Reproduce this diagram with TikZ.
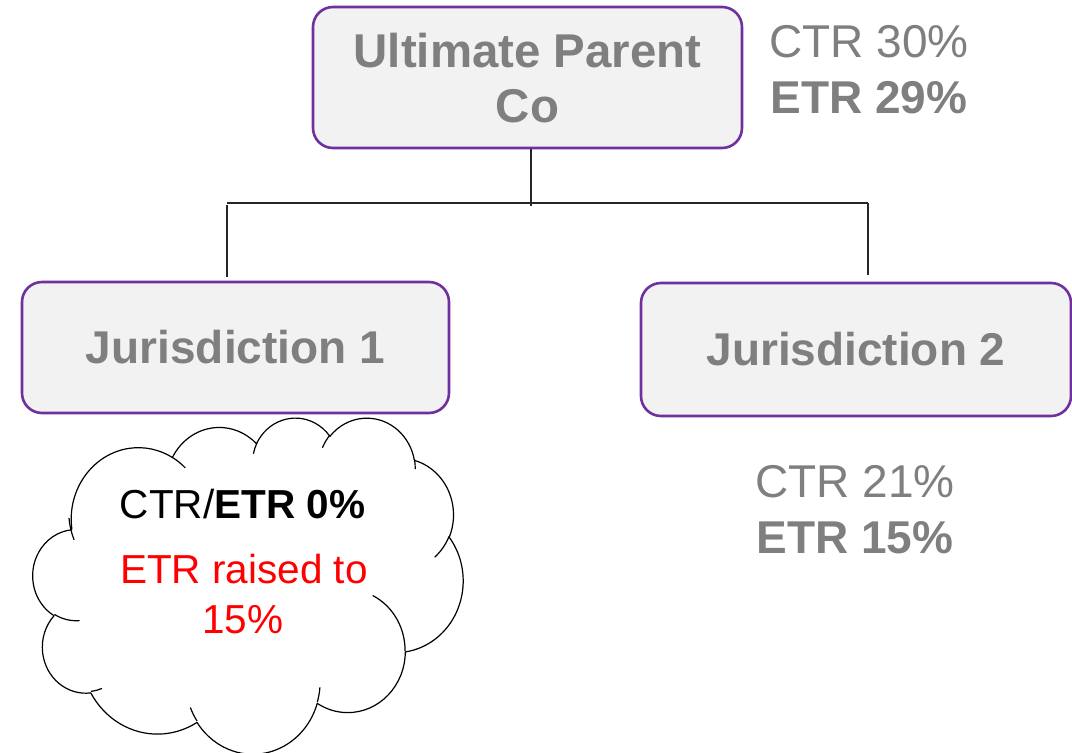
\documentclass[tikz,border=0pt]{standalone}
\usepackage{fontspec}
\setmainfont{Liberation Sans}
\usetikzlibrary{calc}

\definecolor{boxline}{HTML}{7030A0}
\definecolor{boxfill}{HTML}{F2F2F2}
\definecolor{labelgrey}{HTML}{7F7F7F}
\definecolor{raisered}{HTML}{FF0000}

% One cloud puff: name, x radius, y radius, start angle, sweep (angles measured
% visually on the ellipse in shape units); stores parametric start and delta.
\newcommand\cldarc[5]{%
  \pgfmathsetmacro\cldtmpA{atan2(#2*sin(#4), #3*cos(#4))}%
  \pgfmathsetmacro\cldtmpB{atan2(#2*sin(#4+#5), #3*cos(#4+#5))}%
  \pgfmathsetmacro\cldtmpD{mod(\cldtmpB-\cldtmpA+540,360)-180}%
  \expandafter\xdef\csname cld#1s\endcsname{\cldtmpA}%
  \expandafter\xdef\csname cld#1d\endcsname{\cldtmpD}%
}

\begin{document}
\begin{tikzpicture}[x=1pt,y=-1pt,
  entity/.style={draw=boxline, line width=2.6pt, fill=boxfill,
    rounded corners=20pt, text=labelgrey, align=center, inner sep=0pt,
    font=\fontsize{46}{57}\selectfont\bfseries},
  link/.style={draw=black!85, line width=1.4pt},
  rate/.style={text=labelgrey, inner sep=0pt, anchor=base,
    font=\fontsize{46}{56}\selectfont},
  cloudtext/.style={inner sep=0pt, anchor=base,
    font=\fontsize{40.5}{50}\selectfont},
  puff/.style={draw=black, line width=1.2pt, line join=round},
]
\useasboundingbox (0,0) rectangle (1072,753);

% Entities
\node[entity, minimum width=429pt, minimum height=141pt, text depth=0pt,
  font=\fontsize{47.4}{55}\selectfont\bfseries] (upc) at (527.5,77.5) {Ultimate Parent\\Co};
\node[entity, minimum width=427pt, minimum height=131pt] (j1) at (235.5,347.5) {Jurisdiction 1};
\node[entity, minimum width=430pt, minimum height=133pt] (j2) at (856,349.5) {Jurisdiction 2};

% Ownership connectors
\coordinate (hub) at (531,203);
\coordinate (busL) at (227,203);
\coordinate (busR) at (868,203);
\draw[link] (busL) -- (busR);
\draw[link] (upc.south -| hub) -- ($(hub)+(0,3)$);
\draw[link] ($(busL)+(0,2)$) -- ($(j1.north -| busL)+(0,-4)$);
\draw[link] (busR) -- ($(j2.north -| busR)+(0,-7)$);

% Tax rates
\node[rate] (ctrP) at (869,57.5) {CTR 30\%};
\node[rate, font=\fontsize{46}{56}\selectfont\bfseries] (etrP) at (869,113) {ETR 29\%};
\node[rate] (ctrB) at (855,497) {CTR 21\%};
\node[rate, font=\fontsize{46}{56}\selectfont\bfseries] (etrB) at (855,553) {ETR 15\%};

% Cloud outline
\cldarc{a}{67.53}{91.90}{-190.4875}{123.7805}
\cldarc{b}{53.33}{72.67}{-144.1024}{89.9452}
\cldarc{c}{43.65}{59.45}{-145.8079}{99.7230}
\cldarc{d}{48.57}{65.95}{-130.9861}{117.2417}
\cldarc{e}{53.33}{72.73}{-78.7089}{109.0269}
\cldarc{f}{67.75}{92.20}{-46.2673}{130.2690}
\cldarc{g}{57.85}{78.67}{0.6250}{114.0333}
\cldarc{h}{67.52}{92.15}{22.4516}{115.1726}
\cldarc{i}{77.20}{105.43}{66.2426}{75.7110}
\cldarc{j}{43.60}{59.18}{-274.9421}{146.7356}
\cldarc{k}{43.45}{59.45}{-246.8285}{152.5189}
% inner puff edges
\cldarc{l}{43.45}{59.45}{86.7420}{26.4295}
\cldarc{m}{43.60}{59.18}{73.6105}{11.4475}
\cldarc{n}{67.52}{92.15}{137.6242}{14.0811}
\cldarc{o}{67.52}{92.15}{6.4533}{15.9984}
\cldarc{p}{57.85}{78.67}{-70.2924}{70.9174}
\cldarc{q}{53.33}{72.73}{30.3180}{27.7515}
\cldarc{r}{48.57}{65.95}{-13.7443}{14.8589}
\cldarc{s}{48.57}{65.95}{-149.1815}{18.1954}
\cldarc{t}{43.65}{59.45}{-163.4943}{17.6864}
\cldarc{u}{67.53}{91.90}{-66.7070}{12.3194}
\cldarc{v}{67.53}{91.90}{150.0698}{23.2494}

\begin{scope}[shift={(33,417)}, x=0.99537pt, y=-0.77778pt]
  \draw[puff, fill=white] (39.00,143.70)
    arc[start angle=\cldas, delta angle=\cldad, x radius=67.53, y radius=91.90]
    arc[start angle=\cldbs, delta angle=\cldbd, x radius=53.33, y radius=72.67]
    arc[start angle=\cldcs, delta angle=\cldcd, x radius=43.65, y radius=59.45]
    arc[start angle=\cldds, delta angle=\clddd, x radius=48.57, y radius=65.95]
    arc[start angle=\cldes, delta angle=\clded, x radius=53.33, y radius=72.73]
    arc[start angle=\cldfs, delta angle=\cldfd, x radius=67.75, y radius=92.20]
    arc[start angle=\cldgs, delta angle=\cldgd, x radius=57.85, y radius=78.67]
    arc[start angle=\cldhs, delta angle=\cldhd, x radius=67.52, y radius=92.15]
    arc[start angle=\cldis, delta angle=\cldid, x radius=77.20, y radius=105.43]
    arc[start angle=\cldjs, delta angle=\cldjd, x radius=43.60, y radius=59.18]
    arc[start angle=\cldks, delta angle=\cldkd, x radius=43.45, y radius=59.45]
    -- cycle;
  \draw[puff]
    (46.93,261.77) arc[start angle=\cldls, delta angle=\cldld, x radius=43.45, y radius=59.45]
    (69.28,348.99) arc[start angle=\cldms, delta angle=\cldmd, x radius=43.60, y radius=59.18]
    (164.78,390.90) arc[start angle=\cldns, delta angle=\cldnd, x radius=67.52, y radius=92.15]
    (288.27,347.51) arc[start angle=\cldos, delta angle=\cldod, x radius=67.52, y radius=92.15]
    (341.29,229.54) arc[start angle=\cldps, delta angle=\cldpd, x radius=57.85, y radius=78.67]
    (417.98,153.54) arc[start angle=\cldqs, delta angle=\cldqd, x radius=53.33, y radius=72.73]
    (383.24,54.26) arc[start angle=\cldrs, delta angle=\cldrd, x radius=48.57, y radius=65.95]
    (290.78,39.52) arc[start angle=\cldss, delta angle=\cldsd, x radius=48.57, y radius=65.95]
    (221.41,47.20) arc[start angle=\cldts, delta angle=\cldtd, x radius=43.65, y radius=59.45]
    (140.00,51.92) arc[start angle=\cldus, delta angle=\cldud, x radius=67.53, y radius=91.90]
    (41.27,157.89) arc[start angle=\cldvs, delta angle=\cldvd, x radius=67.53, y radius=91.90];
\end{scope}

% Cloud text
\node[cloudtext] (cldA) at (242.5,518) {CTR/\textbf{ETR 0\%}};
\node[cloudtext, text=raisered] (cldB) at (244,583) {ETR raised to};
\node[cloudtext, text=raisered] (cldC) at (243,633) {15\%};
\end{tikzpicture}
\end{document}
